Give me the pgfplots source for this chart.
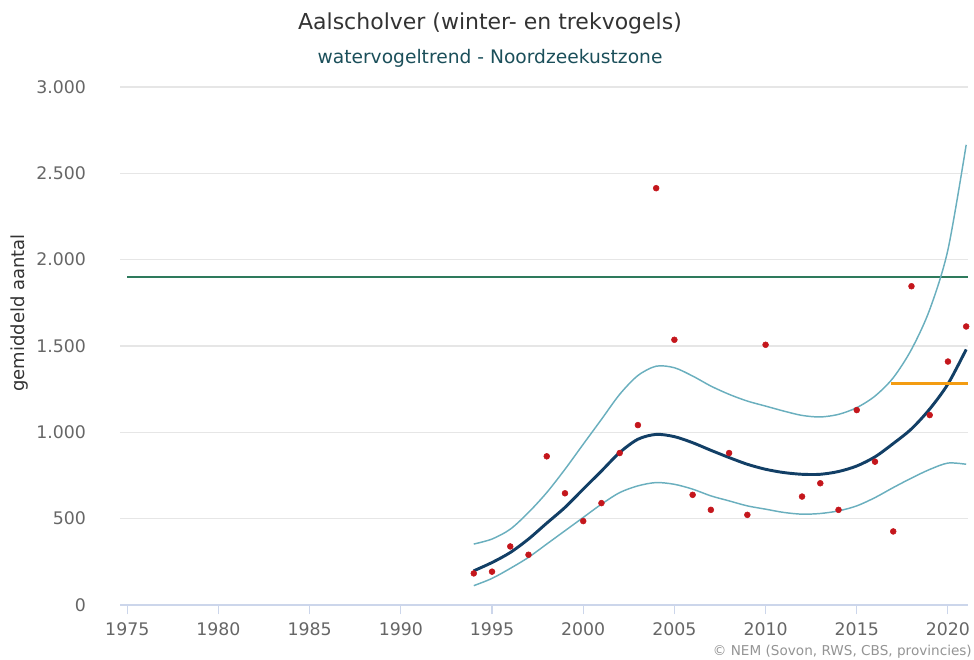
\documentclass[border=0pt]{standalone}
\usepackage{pgfplots}
\pgfplotsset{compat=1.18}
\usepackage{fontspec}
\setmainfont{DejaVu Sans}
\definecolor{titlegray}{HTML}{333333}
\definecolor{subteal}{HTML}{1B4F5A}
\definecolor{tickgray}{HTML}{666666}
\definecolor{gridgray}{HTML}{E6E6E6}
\definecolor{axisgray}{HTML}{CCD6EB}
\definecolor{trendblue}{HTML}{123F66}
\definecolor{citeal}{HTML}{6AAFBE}
\definecolor{refgreen}{HTML}{2E7A5C}
\definecolor{dotred}{HTML}{C4161C}
\definecolor{orangeline}{HTML}{F39C12}
\begin{document}
\begin{tikzpicture}[x=0.75pt,y=0.75pt]
\useasboundingbox (0,0) rectangle (974,660);
\node[text=titlegray,font=\fontsize{16.5}{19}\selectfont] at (490,637) {Aalscholver (winter- en trekvogels)};
\node[text=subteal,font=\fontsize{14}{16}\selectfont] at (490,602) {watervogeltrend - Noordzeekustzone};
\node[text=titlegray,rotate=90,font=\fontsize{13.5}{15}\selectfont] at (20,347) {gemiddeld aantal};
\node[text=tickgray!70,anchor=south east,font=\fontsize{10.2}{12}\selectfont,inner sep=0pt] at (972,1) {© NEM (Sovon, RWS, CBS, provincies)};
\begin{axis}[
  at={(90pt,41.25pt)}, anchor=south west,
  scale only axis, width=636pt, height=388.5pt,
  xmin=1974.6, xmax=2021.1, ymin=0, ymax=3000,
  axis lines*=left,
  x axis line style={axisgray, line width=0.8pt, -},
  y axis line style={draw=none},
  xtick={1975,1980,...,2020},
  ytick={0,500,...,3000},
  ymajorgrids, grid style={gridgray, line width=0.8pt},
  xtick style={axisgray, line width=0.8pt},
  ytick style={draw=none},
  tick align=outside, major tick length=7pt,
  x tick label style={/pgf/number format/1000 sep={}, text=tickgray, font=\fontsize{13}{15}\selectfont, yshift=-3pt},
  y tick label style={/pgf/number format/1000 sep={.}, text=tickgray, font=\fontsize{13}{15}\selectfont, xshift=-15pt},
  /pgf/number format/assume math mode=true,
  clip=false,
]
% reference line
\addplot[refgreen, line width=1pt] coordinates {(1975,1900) (2021.1,1900)};
% upper CI
\addplot[citeal, line width=1.1pt, smooth] coordinates {
(1994,353)(1995,382)(1996,439)(1997,536)(1998,651)(1999,786)(2000,931)(2001,1075)(2002,1220)(2003,1329)(2004,1383)(2005,1374)(2006,1326)(2007,1268)(2008,1220)(2009,1181)(2010,1152)(2011,1123)(2012,1098)(2013,1089)(2014,1104)(2015,1143)(2016,1210)(2017,1316)(2018,1480)(2019,1711)(2020,2058)(2021,2665)};
% lower CI
\addplot[citeal, line width=1.1pt, smooth] coordinates {
(1994,112)(1995,154)(1996,212)(1997,276)(1998,353)(1999,430)(2000,507)(2001,584)(2002,651)(2003,690)(2004,709)(2005,699)(2006,671)(2007,632)(2008,603)(2009,574)(2010,555)(2011,536)(2012,526)(2013,530)(2014,545)(2015,574)(2016,622)(2017,680)(2018,735)(2019,785)(2020,822)(2021,815)};
% trend
\addplot[trendblue, line width=2.2pt, smooth] coordinates {
(1994,198)(1995,246)(1996,304)(1997,382)(1998,474)(1999,565)(2000,671)(2001,776)(2002,883)(2003,960)(2004,988)(2005,975)(2006,940)(2007,896)(2008,854)(2009,815)(2010,786)(2011,767)(2012,757)(2013,757)(2014,773)(2015,805)(2016,858)(2017,935)(2018,1020)(2019,1135)(2020,1280)(2021,1480)};
% orange line
\addplot[orangeline, line width=2.5pt] coordinates {(2016.9,1281) (2021.1,1281)};
% observed
\addplot[only marks, mark=*, mark size=2.2pt, dotred, mark options={draw=dotred, fill=dotred}] coordinates {
(1994,183)(1995,193)(1996,339)(1997,291)(1998,861)(1999,647)(2000,486)(2001,590)(2002,880)(2003,1042)(2004,2414)(2005,1536)(2006,638)(2007,551)(2008,880)(2009,522)(2010,1507)(2012,628)(2013,705)(2014,551)(2015,1129)(2016,830)(2017,426)(2018,1846)(2019,1100)(2020,1410)(2021,1613)};
\end{axis}
\end{tikzpicture}
\end{document}
